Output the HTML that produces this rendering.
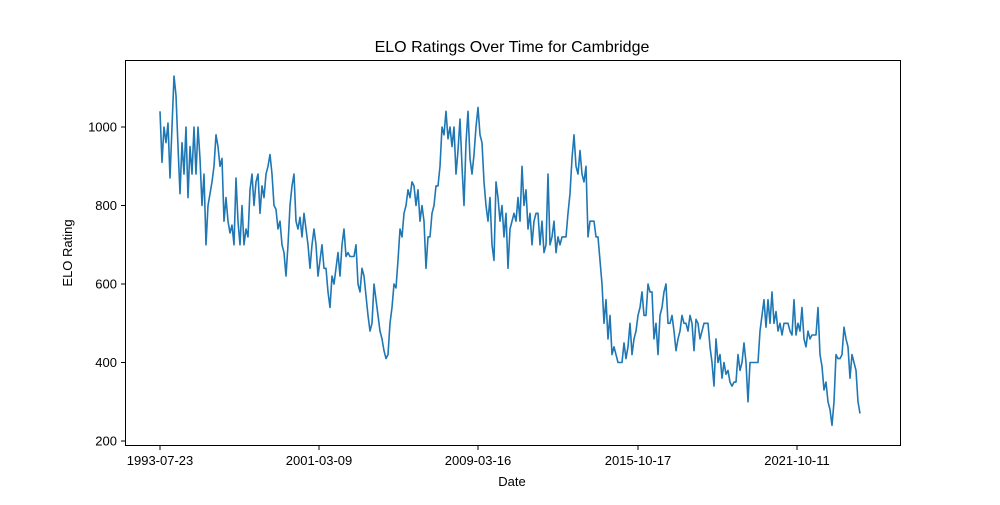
<!DOCTYPE html>
<html><head><meta charset="utf-8"><style>
body{margin:0;background:#fff;font-family:"Liberation Sans",sans-serif;}
svg text{font-family:"Liberation Sans",sans-serif;fill:#000;}
</style></head><body>
<svg id="chart" width="1000" height="500">
<rect x="0" y="0" width="1000" height="500" fill="#fff"/>
<text x="512" y="52" font-size="16" text-anchor="middle">ELO Ratings Over Time for Cambridge</text>
<text x="512" y="486" font-size="13" text-anchor="middle">Date</text>
<text transform="translate(72,253) rotate(-90)" font-size="13" text-anchor="middle">ELO Rating</text>
<g id="grid"></g>
<path id="line" fill="none" stroke="#1f77b4" stroke-width="1.6" stroke-linejoin="round"/>
<rect x="125.5" y="60.5" width="775" height="385" fill="none" stroke="#000" stroke-width="1"/>
</svg>
<script>
const ratings=[1040,910,1000,960,1010,870,1000,1130,1080,950,830,960,880,1000,820,950,880,1000,880,1000,920,800,880,700,800,830,860,900,980,950,900,920,760,820,760,730,750,700,870,760,700,800,700,740,720,840,880,800,860,880,780,850,820,880,900,930,880,800,790,740,760,700,680,620,700,800,850,880,760,740,770,720,780,740,700,640,700,740,700,620,660,700,640,640,580,540,620,600,640,680,620,700,740,670,680,670,670,670,700,600,580,640,620,570,520,480,500,600,560,520,480,460,430,410,420,500,540,600,590,660,740,720,780,800,840,820,860,850,800,840,760,800,760,640,720,720,780,800,850,850,900,1000,980,1040,970,1000,950,1000,880,940,1020,900,800,960,1040,920,880,930,1000,1050,980,960,860,800,760,820,700,660,860,820,760,800,720,780,640,740,760,780,760,820,760,900,800,840,740,780,700,760,780,780,700,760,680,700,880,700,720,760,680,720,700,720,720,720,780,830,920,980,900,880,940,880,860,900,720,760,760,760,720,720,660,600,500,560,460,520,420,440,420,400,400,400,450,410,440,500,420,460,480,520,540,580,520,520,600,580,580,460,500,420,520,540,580,600,500,500,520,480,430,460,480,520,500,500,480,520,500,430,510,500,460,480,500,500,500,440,400,340,460,400,420,360,400,370,380,350,340,350,350,420,380,400,450,400,300,400,400,400,400,400,480,520,560,490,560,500,580,500,530,480,500,470,500,500,500,480,470,560,470,500,480,540,460,440,480,460,470,470,470,540,420,390,330,350,300,280,240,300,420,410,410,420,490,460,440,360,420,400,380,300,270];
const xTickIdx=[0,79.5,159,239,318.5];
const xTickLabels=["1993-07-23","2001-03-09","2009-03-16","2015-10-17","2021-10-11"];
const yTicks=[200,400,600,800,1000];
const NS="http://www.w3.org/2000/svg";
function xs(i){return 160+2*i;}
function ys(v){return 441-(v-200)*0.3925;}
let d="";
ratings.forEach((v,i)=>{d+=(i?"L":"M")+xs(i).toFixed(1)+","+ys(v).toFixed(1);});
document.getElementById("line").setAttribute("d",d);
const g=document.getElementById("grid");
xTickIdx.forEach((t,k)=>{
  const x=xs(t);
  const l=document.createElementNS(NS,"line");
  l.setAttribute("x1",x);l.setAttribute("x2",x);l.setAttribute("y1",445.5);l.setAttribute("y2",450);l.setAttribute("stroke","#000");
  
  
  g.appendChild(l);
  const tx=document.createElementNS(NS,"text");
  tx.setAttribute("x",x);tx.setAttribute("y",465);tx.setAttribute("font-size","13");tx.setAttribute("text-anchor","middle");
  tx.textContent=xTickLabels[k];
  
  
  g.appendChild(tx);
});
yTicks.forEach(v=>{
  const y=ys(v);
  const l=document.createElementNS(NS,"line");
  l.setAttribute("x1",121);l.setAttribute("x2",125.5);l.setAttribute("y1",y);l.setAttribute("y2",y);l.setAttribute("stroke","#000");
  
  
  g.appendChild(l);
  const tx=document.createElementNS(NS,"text");
  tx.setAttribute("x",117);tx.setAttribute("y",y+4.5);tx.setAttribute("font-size","13");tx.setAttribute("text-anchor","end");
  tx.textContent=v;
  
  
  g.appendChild(tx);
});
</script>
</body></html>
